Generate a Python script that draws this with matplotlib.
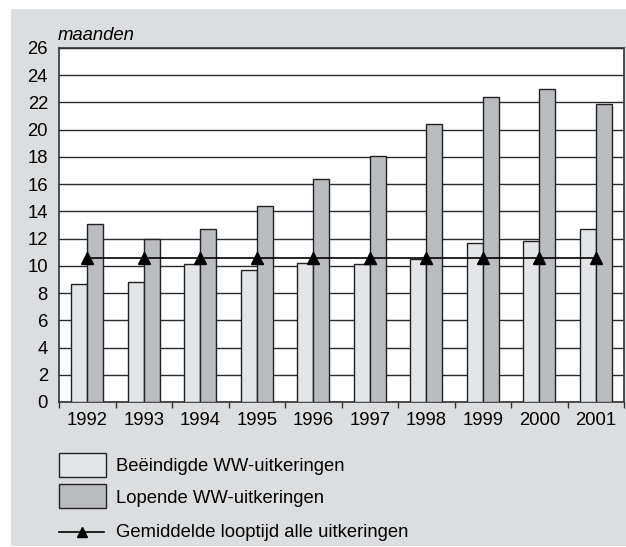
import matplotlib
matplotlib.use("Agg")
import matplotlib.pyplot as plt
from matplotlib.patches import Rectangle
from matplotlib.lines import Line2D
import numpy as np

plt.rcParams['font.family'] = ['Liberation Sans', 'DejaVu Sans']

years = ['1992', '1993', '1994', '1995', '1996', '1997', '1998', '1999', '2000', '2001']
beeindigd = [8.7, 8.8, 10.1, 9.7, 10.2, 10.1, 10.5, 11.7, 11.8, 12.7]
lopend = [13.1, 12.0, 12.7, 14.4, 16.4, 18.1, 20.4, 22.4, 23.0, 21.9]
gemiddeld = [10.6] * 10
yticks = list(range(0, 27, 2))
labels = ['Beëindigde WW-uitkeringen', 'Lopende WW-uitkeringen',
          'Gemiddelde looptijd alle uitkeringen']

W, H = 626, 547
fig = plt.figure(figsize=(W / 100, H / 100), dpi=100)
fig.patch.set_facecolor('white')

bg = '#dcdddf'
light = '#e4e5e7'
dark = '#bbbcc0'
edge = '#222222'
fs = 13.3

fig.add_artist(Rectangle((11 / W, 1 - 546 / H), (W - 11) / W, (546 - 9) / H,
                         transform=fig.transFigure, facecolor=bg, edgecolor='none', zorder=0))

x0, x1, y0, y1 = 59, 624, 48, 402
ax = fig.add_axes([x0 / W, 1 - y1 / H, (x1 - x0) / W, (y1 - y0) / H])
ax.set_facecolor('white')
ax.set_zorder(1)

x = np.arange(len(years))
bw = 0.28
ax.bar(x - bw / 2, beeindigd, bw, color=light, edgecolor=edge, linewidth=1.0, zorder=3)
ax.bar(x + bw / 2, lopend, bw, color=dark, edgecolor=edge, linewidth=1.0, zorder=3)
ax.plot(x, gemiddeld, color='black', linewidth=1.2, marker='^', markersize=9,
        markerfacecolor='black', zorder=4)

ax.set_xlim(-0.5, len(years) - 0.5)
ax.set_ylim(0, 26)
ax.set_yticks(yticks)
ax.yaxis.grid(True, color='#2a2a2a', linewidth=1.0, zorder=1)
ax.set_axisbelow(True)
ax.tick_params(axis='y', length=0, labelsize=fs, pad=8)
ax.set_xticks(x)
ax.set_xticklabels(years)
ax.set_xticks(np.arange(-0.5, len(years), 1), minor=True)
ax.tick_params(axis='x', which='major', length=0, labelsize=fs, pad=7)
ax.tick_params(axis='x', which='minor', length=4, width=1, color='#333333', direction='out')
for s in ax.spines.values():
    s.set_color('#333333')
    s.set_linewidth(1.2)

fig.text(58 / W, 1 - 40 / H, 'maanden', fontsize=fs, style='italic',
         ha='left', va='baseline')

lx0, lx1 = 59, 106
for (ya, yb), col in [((453, 477), light), ((484, 508), dark)]:
    fig.add_artist(Rectangle((lx0 / W, 1 - yb / H), (lx1 - lx0) / W, (yb - ya) / H,
                             transform=fig.transFigure, facecolor=col, edgecolor=edge,
                             linewidth=1.0, zorder=2))
ly = 1 - 532 / H
fig.add_artist(Line2D([lx0 / W, (lx1 - 2) / W], [ly, ly], transform=fig.transFigure,
                      color='black', linewidth=1.2, zorder=2))
fig.add_artist(Line2D([(lx0 + lx1 - 2) / 2 / W], [ly], transform=fig.transFigure,
                      marker='^', markersize=7, color='black', linestyle='none', zorder=2))
for lab, yb in zip(labels, [471, 503, 537]):
    fig.text(116 / W, 1 - yb / H, lab, fontsize=fs, ha='left', va='baseline')

fig.savefig('out.png', dpi=100, facecolor='white')
